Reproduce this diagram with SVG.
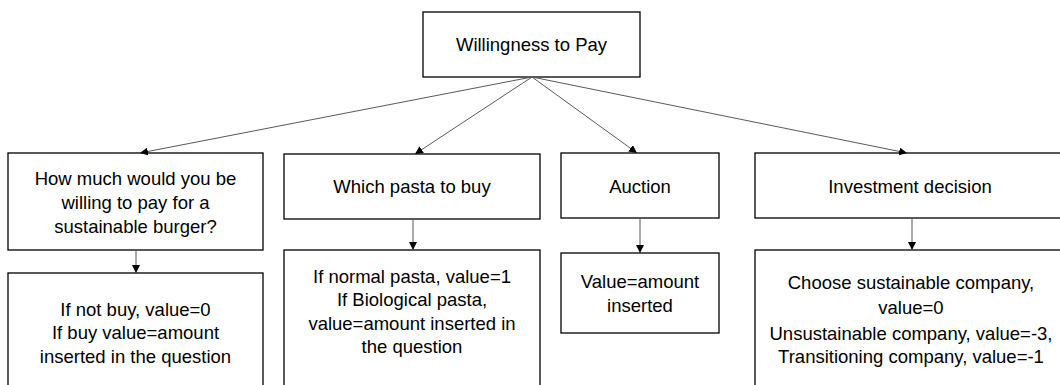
<svg xmlns="http://www.w3.org/2000/svg" width="1060" height="385" viewBox="0 0 1060 385">
<style>
.box{fill:#fff;stroke:#000;stroke-width:1.3}
.t{font-family:"Liberation Sans",Arial,sans-serif;font-size:18.5px;fill:#000;text-anchor:middle}
.c{stroke:#595959;stroke-width:1;fill:none;marker-end:url(#ah)}
</style>
<defs>
<marker id="ah" viewBox="0 0 10 10" refX="10" refY="5" markerWidth="8" markerHeight="8" markerUnits="userSpaceOnUse" orient="auto">
<path d="M0,0 L10,5 L0,10 Z" fill="#000"/>
</marker>
</defs>
<rect width="1060" height="385" fill="#fff"/>
<g id="root">
<rect class="box" x="423" y="12" width="217" height="65"/>
<text class="t" x="531.5" y="51">Willingness to Pay</text>
</g>
<g id="q1">
<rect class="box" x="8" y="153" width="255" height="97"/>
<text class="t" x="135.5" y="185">How much would you be</text>
<text class="t" x="135.5" y="209">willing to pay for a</text>
<text class="t" x="135.5" y="233">sustainable burger?</text>
</g>
<g id="v1">
<rect class="box" x="8" y="273" width="255" height="130"/>
<text class="t" x="135.5" y="316">If not buy, value=0</text>
<text class="t" x="135.5" y="339">If buy value=amount</text>
<text class="t" x="135.5" y="363">inserted in the question</text>
</g>
<g id="q2">
<rect class="box" x="284" y="154" width="256" height="65"/>
<text class="t" x="412" y="193">Which pasta to buy</text>
</g>
<g id="v2">
<rect class="box" x="284" y="250" width="256" height="150"/>
<text class="t" x="412" y="283">If normal pasta, value=1</text>
<text class="t" x="412" y="306">If Biological pasta,</text>
<text class="t" x="412" y="330">value=amount inserted in</text>
<text class="t" x="412" y="353">the question</text>
</g>
<g id="q3">
<rect class="box" x="561" y="153" width="158" height="65"/>
<text class="t" x="640" y="193">Auction</text>
</g>
<g id="v3">
<rect class="box" x="561" y="253" width="158" height="80"/>
<text class="t" x="640" y="288">Value=amount</text>
<text class="t" x="640" y="312">inserted</text>
</g>
<g id="q4">
<rect class="box" x="755" y="153" width="320" height="65"/>
<text class="t" x="910" y="193">Investment decision</text>
</g>
<g id="v4">
<rect class="box" x="755" y="250" width="320" height="150"/>
<text class="t" x="911" y="289">Choose sustainable company,</text>
<text class="t" x="911" y="314">value=0</text>
<text class="t" x="911" y="340">Unsustainable company, value=-3,</text>
<text class="t" x="911" y="363">Transitioning company, value=-1</text>
</g>
<g id="connectors">
<line class="c" x1="532" y1="77" x2="140" y2="153"/>
<line class="c" x1="532" y1="77" x2="415" y2="154"/>
<line class="c" x1="532" y1="77" x2="637" y2="153"/>
<line class="c" x1="532" y1="77" x2="907" y2="153"/>
<line class="c" x1="136" y1="250" x2="136" y2="273"/>
<line class="c" x1="413" y1="219" x2="413" y2="250"/>
<line class="c" x1="640" y1="218" x2="640" y2="253"/>
<line class="c" x1="912" y1="218" x2="912" y2="250"/>
</g>
</svg>
